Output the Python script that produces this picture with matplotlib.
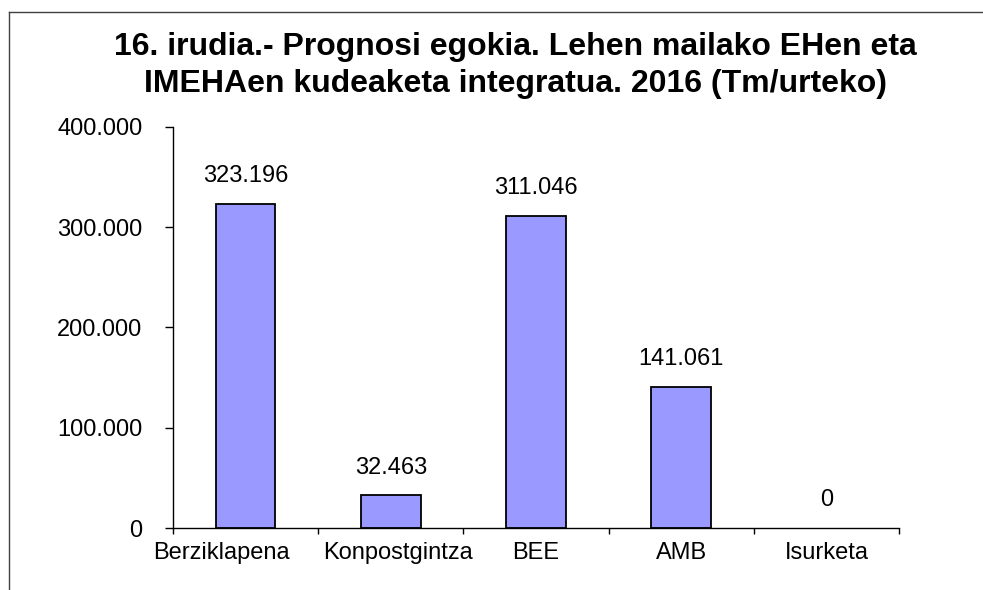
import matplotlib.pyplot as plt
from matplotlib.lines import Line2D
from matplotlib.transforms import ScaledTranslation

plt.rcParams['font.family'] = ['Liberation Sans', 'DejaVu Sans']

# datuak
kategoriak = ['Berziklapena', 'Konpostgintza', 'BEE', 'AMB', 'Isurketa']
balioak = [323196, 32463, 311046, 141061, 0]
y_ticks = [0, 100000, 200000, 300000, 400000]


def formatua(v):
    # puntua milakoen bereizle gisa
    return f'{v:,.0f}'.replace(',', '.')


fig = plt.figure(figsize=(9.83, 5.90), dpi=100)
ax = fig.add_axes([0.176, 0.105, 0.7386, 0.68])

x = list(range(len(kategoriak)))
lw = [1.3 if v > 0 else 0 for v in balioak]
ax.bar(x, balioak, width=0.41, color='#9999FF', edgecolor='black', linewidth=lw, zorder=2)

for xi, v in zip(x, balioak):
    ax.annotate(formatua(v), (xi, v), xytext=(0, 12), textcoords='offset points',
                ha='center', va='bottom', fontsize=17)

ax.set_xlim(-0.5, len(kategoriak) - 0.5)
ax.set_ylim(0, 400000)
ax.set_yticks(y_ticks)
ax.set_yticklabels([formatua(v) for v in y_ticks])
ax.set_xticks(x)
ax.set_xticklabels(kategoriak)
ax.set_xticks([i + 0.5 for i in range(-1, len(kategoriak))], minor=True)

ax.tick_params(axis='y', length=6, width=1, pad=16, labelsize=17)
ax.tick_params(axis='x', which='major', length=0, pad=10, labelsize=17)
ax.tick_params(axis='x', which='minor', length=4, width=1)

# Excel-en moduan lehen etiketak apur bat alboratu, gainjar ez daitezen
labels = ax.get_xticklabels()
for lab, dx in zip(labels, [-0.245, 0.075]):
    lab.set_transform(lab.get_transform() + ScaledTranslation(dx, 0, fig.dpi_scale_trans))

ax.spines['top'].set_visible(False)
ax.spines['right'].set_visible(False)
for s in ['left', 'bottom']:
    ax.spines[s].set_linewidth(1)

fig.text(0.524, 0.945, '16. irudia.- Prognosi egokia. Lehen mailako EHen eta\nIMEHAen kudeaketa integratua. 2016 (Tm/urteko)',
         ha='center', va='top', fontsize=23, fontweight='bold', linespacing=1.3)

# kanpoko marko zatia
fig.add_artist(Line2D([9 / 983, 9 / 983], [0, 1 - 12 / 590], color='#404040', linewidth=1))
fig.add_artist(Line2D([9 / 983, 1], [1 - 12 / 590, 1 - 12 / 590], color='#404040', linewidth=1))

fig.savefig('out.png', dpi=100)
